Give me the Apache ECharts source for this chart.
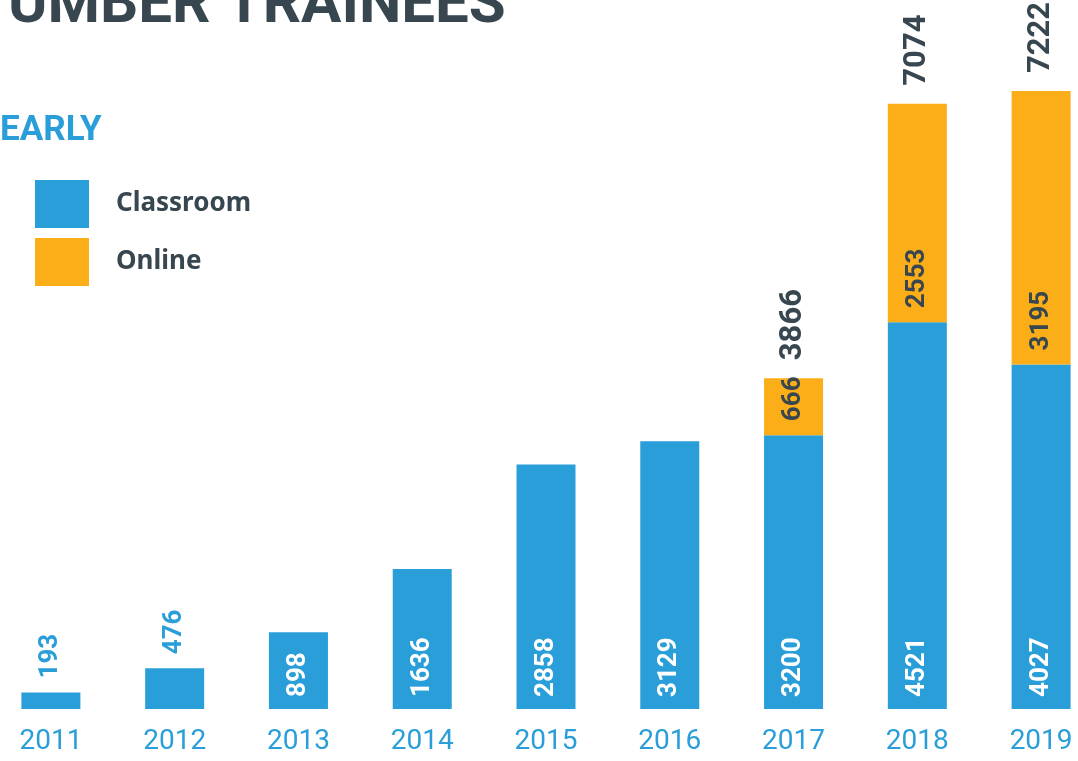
<html>
<head>
	<meta charset="utf-8">
	<title>Trainees</title>
	<script src="https://cdn.jsdelivr.net/npm/echarts@6/dist/echarts.min.js"></script>
	<style type="text/css">
		html, body { margin: 0; padding: 0; background: #fff; overflow: hidden; }
	</style>
</head>
<body>
	<!-- chart is a bit wider than the window so the first/last bars sit near the edges -->
	<div id="chart" style="width:1114px;height:761px;margin-left:-11px"></div>
	<script type="text/javascript">
		// data
		var years = ['2011', '2012', '2013', '2014', '2015', '2016', '2017', '2018', '2019'];
		var classroom = [193, 476, 898, 1636, 2858, 3129, 3200, 4521, 4027];
		var online = [null, null, null, null, null, null, 666, 2553, 3195];
		var totals = [null, null, null, null, null, null, 3866, 7074, 7222];

		var BLUE = '#299ed9', ORANGE = '#fcae19', DARK = '#37464f';
		var NUMFONT = 'Roboto, sans-serif';

		var myChart = echarts.init(document.getElementById('chart'));

		// bars too short for the number: put it above, in blue
		var classData = classroom.map(function (v) {
			if (v < 600) return { value: v, label: { position: 'top', color: BLUE, distance: 14 } };
			return v;
		});
		// invisible bar on top of the stack, carries the total label
		var totalData = totals.map(function (t) { return t == null ? null : 0; });

		var option = {
			animation: false,
			grid: { left: 0, right: 0, top: 91, bottom: 52 },
			legend: {
				data: ['Classroom', 'Online'],
				orient: 'vertical',
				left: 41, top: 175,
				icon: 'rect',
				itemWidth: 54, itemHeight: 48, itemGap: 10,
				textStyle: { color: DARK, fontSize: 26, fontWeight: 'bold', fontFamily: '"Noto Sans", sans-serif', padding: [0, 0, 0, 22] }
			},
			graphic: [
				{ type: 'text', left: 19, top: -23, style: { text: 'UMBER TRAINEES', fill: DARK, font: 'bold 60px Roboto, sans-serif' } },
				{ type: 'text', left: 11, top: 114, style: { text: 'EARLY', fill: BLUE, font: 'bold 35px Roboto, sans-serif' } }
			],
			xAxis: {
				type: 'category',
				data: years,
				axisLine: { show: false },
				axisTick: { show: false },
				axisLabel: { color: BLUE, fontSize: 28, fontFamily: 'Roboto, sans-serif', margin: 19 }
			},
			yAxis: { type: 'value', show: false, min: 0, max: 7222, splitLine: { show: false } },
			series: [
				{
					name: 'Classroom', type: 'bar', stack: 'all', barWidth: 59,
					itemStyle: { color: BLUE },
					label: {
						show: true, position: 'insideBottom', rotate: 90, align: 'left', verticalAlign: 'middle',
						distance: 12, color: '#fff', fontSize: 26, fontWeight: 'bold', fontFamily: NUMFONT
					},
					data: classData
				},
				{
					name: 'Online', type: 'bar', stack: 'all', barWidth: 59,
					itemStyle: { color: ORANGE },
					label: {
						show: true, position: 'insideBottom', rotate: 90, align: 'left', verticalAlign: 'middle',
						distance: 14, color: DARK, fontSize: 26, fontWeight: 'bold', fontFamily: NUMFONT
					},
					data: online
				},
				{
					name: 'Total', type: 'bar', stack: 'all', barWidth: 59,
					itemStyle: { color: 'transparent' },
					label: {
						show: true, position: 'top', rotate: 90, align: 'left', verticalAlign: 'middle',
						distance: 18, color: DARK, fontSize: 31, fontWeight: 'bold', fontFamily: NUMFONT,
						formatter: function (p) { return totals[p.dataIndex]; }
					},
					data: totalData
				}
			]
		};
		myChart.setOption(option);
	</script>
</body>
</html>
